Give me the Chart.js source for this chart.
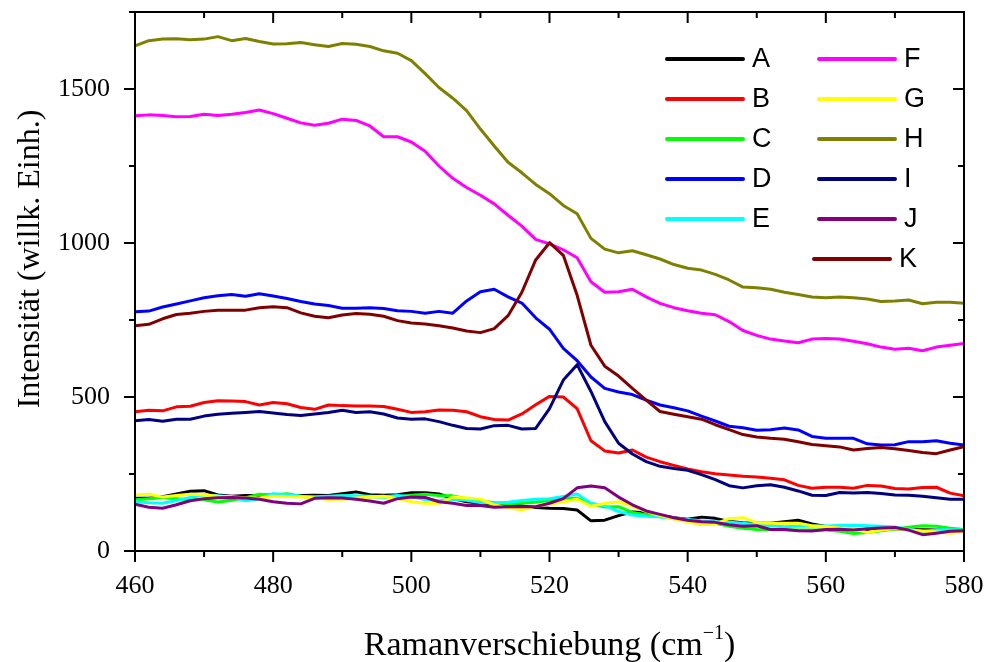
<!DOCTYPE html>
<html>
<head>
<meta charset="utf-8">
<script src="https://cdn.jsdelivr.net/npm/chart.js@4/dist/chart.umd.min.js"></script>
<style>
  html, body { margin: 0; padding: 0; background: #fff; }
  #wrap { width: 985px; height: 662px; position: relative; }
</style>
</head>
<body>
<div id="wrap"><canvas id="chart" width="985" height="662"></canvas></div>
<script>
// ─── Data ────────────────────────────────────────────────────────────────────
const SHIFT = [460, 462, 464, 466, 468, 470, 472, 474, 476, 478, 480, 482, 484, 486, 488, 490,
  492, 494, 496, 498, 500, 502, 504, 506, 508, 510, 512, 514, 516, 518, 520, 522, 524, 526, 528,
  530, 532, 534, 536, 538, 540, 542, 544, 546, 548, 550, 552, 554, 556, 558, 560, 562, 564, 566,
  568, 570, 572, 574, 576, 578, 580];

const A = [171, 171, 176, 185, 194, 196, 182, 178, 180, 180, 182, 180, 180, 181, 180, 186,
  192, 183, 181, 183, 189, 189, 185, 170, 160, 156, 152, 149, 146, 141, 139, 138, 133, 98, 100,
  115, 127, 124, 115, 108, 103, 110, 106, 96, 92, 90, 90, 95, 100, 88, 80, 70, 70, 70,
  73, 72, 70, 69, 68, 68, 68];
const B = [452, 457, 455, 468, 470, 482, 488, 487, 485, 474, 482, 478, 466, 460, 474, 472,
  471, 471, 469, 460, 450, 452, 458, 457, 452, 436, 427, 425, 445, 475, 502, 500, 462, 358, 325,
  318, 328, 305, 290, 278, 266, 257, 251, 247, 243, 240, 236, 231, 213, 204, 207, 207, 204, 213,
  211, 203, 201, 206, 207, 188, 179];
const C = [166, 170, 174, 170, 166, 166, 159, 165, 173, 184, 182, 186, 178, 171, 176, 179,
  177, 176, 175, 176, 181, 184, 180, 179, 170, 162, 157, 153, 156, 158, 165, 171, 171, 154, 143,
  144, 125, 118, 111, 106, 100, 86, 90, 80, 74, 70, 69, 69, 68, 68, 68, 64, 57, 60,
  66, 71, 77, 82, 80, 74, 70];
const D = [777, 779, 792, 802, 812, 822, 829, 833, 827, 835, 828, 820, 810, 802, 797, 788,
  788, 790, 787, 780, 778, 772, 778, 772, 812, 842, 850, 825, 805, 757, 720, 658, 618, 565, 528,
  516, 508, 490, 474, 465, 455, 438, 422, 405, 400, 392, 394, 399, 393, 372, 366, 366, 366, 348,
  344, 345, 355, 355, 358, 350, 344];
const E = [160, 157, 155, 164, 174, 182, 179, 175, 163, 169, 186, 183, 178, 176, 178, 179,
  179, 178, 176, 180, 176, 167, 163, 168, 165, 157, 156, 158, 164, 168, 170, 177, 185, 155, 147,
  128, 117, 113, 111, 106, 102, 98, 95, 93, 90, 86, 82, 79, 81, 81, 81, 83, 84, 82,
  80, 78, 71, 63, 68, 69, 68];
const F = [1413, 1416, 1414, 1410, 1411, 1418, 1414, 1418, 1424, 1432, 1420, 1405, 1390, 1382, 1389, 1402,
  1398, 1380, 1345, 1345, 1328, 1298, 1250, 1210, 1180, 1155, 1127, 1090, 1055, 1012, 997, 978, 952, 874, 840,
  842, 850, 825, 804, 790, 780, 772, 767, 745, 716, 700, 688, 682, 676, 688, 690, 688, 681, 673,
  662, 655, 658, 650, 662, 668, 674];
const G = [182, 184, 175, 180, 184, 182, 178, 176, 173, 172, 178, 177, 176, 172, 167, 168,
  172, 176, 178, 170, 160, 155, 155, 175, 172, 168, 150, 140, 134, 145, 152, 160, 168, 145, 154,
  160, 145, 128, 115, 104, 95, 86, 88, 105, 108, 92, 90, 90, 90, 82, 79, 75, 72, 60,
  68, 73, 68, 65, 62, 58, 63];
const H = [1640, 1657, 1662, 1663, 1660, 1662, 1670, 1657, 1664, 1654, 1646, 1647, 1651, 1644, 1638, 1648,
  1645, 1638, 1624, 1616, 1592, 1550, 1505, 1470, 1430, 1370, 1315, 1262, 1228, 1190, 1160, 1122, 1095, 1015, 980,
  968, 975, 962, 948, 930, 918, 912, 898, 880, 857, 855, 850, 840, 833, 825, 822, 825, 822, 818,
  810, 812, 815, 803, 808, 808, 804];
const I = [423, 427, 421, 428, 428, 438, 444, 447, 450, 453, 448, 443, 440, 445, 450, 457,
  450, 452, 445, 432, 428, 429, 420, 408, 398, 396, 407, 408, 396, 398, 462, 555, 605, 518, 420,
  350, 315, 290, 275, 268, 262, 248, 232, 212, 205, 212, 215, 207, 195, 181, 180, 190, 188, 190,
  187, 182, 181, 178, 173, 168, 168];
const J = [152, 142, 139, 150, 163, 170, 173, 174, 172, 168, 160, 155, 153, 171, 173, 172,
  168, 162, 155, 170, 175, 174, 160, 155, 148, 148, 142, 144, 144, 144, 155, 170, 205, 211, 205,
  175, 150, 130, 119, 108, 100, 95, 93, 85, 80, 82, 70, 70, 66, 65, 70, 71, 68, 72,
  75, 76, 68, 53, 58, 64, 66];
const K = [731, 736, 754, 768, 772, 778, 782, 782, 782, 790, 793, 790, 773, 762, 757, 766,
  771, 769, 762, 748, 740, 737, 731, 724, 714, 709, 722, 764, 840, 945, 1001, 960, 830, 668, 600,
  568, 528, 490, 453, 444, 436, 428, 410, 394, 378, 370, 366, 363, 355, 346, 342, 338, 328, 333,
  336, 332, 326, 320, 316, 328, 339];

const SERIES_NAMES = ['A', 'B', 'C', 'D', 'E', 'F', 'G', 'H', 'I', 'J', 'K'];
const SERIES_VALUES = [A, B, C, D, E, F, G, H, I, J, K];
const SERIES_COLORS = ['#000000', '#ff0000', '#00ff00', '#0000ff', '#00ffff', '#ff00ff',
  '#ffff00', '#808000', '#000080', '#800080', '#800000'];

const X_MAJOR = [460, 480, 500, 520, 540, 560, 580];
const X_MINOR = [470, 490, 510, 530, 550, 570];
const Y_MAJOR = [0, 500, 1000, 1500];
const Y_MINOR = [250, 750, 1250, 1750];

const X_TITLE = 'Ramanverschiebung (cm';
const Y_TITLE = 'Intensität (willk. Einh.)';

const SERIF = '"Liberation Serif", "Times New Roman", serif';
const SANS = '"Liberation Sans", Arial, sans-serif';

// ─── Plugins ─────────────────────────────────────────────────────────────────
// Box frame with Origin-style ticks: out on left/bottom, in on top/right.
const frameTicks = {
  id: 'frameTicks',
  afterDatasetsDraw(chart) {
    const { ctx, chartArea: a, scales: { x, y } } = chart;
    ctx.save();
    ctx.strokeStyle = '#000';
    ctx.lineWidth = 2;
    ctx.strokeRect(a.left, a.top, a.right - a.left, a.bottom - a.top);
    const xtick = (vals, len) => {
      for (const v of vals) {
        const px = x.getPixelForValue(v);
        ctx.beginPath();
        ctx.moveTo(px, a.bottom); ctx.lineTo(px, a.bottom + len);
        ctx.moveTo(px, a.top); ctx.lineTo(px, a.top + len);
        ctx.stroke();
      }
    };
    const ytick = (vals, len) => {
      for (const v of vals) {
        const py = y.getPixelForValue(v);
        ctx.beginPath();
        ctx.moveTo(a.left, py); ctx.lineTo(a.left - len, py);
        ctx.moveTo(a.right, py); ctx.lineTo(a.right - len, py);
        ctx.stroke();
      }
    };
    xtick(X_MAJOR, 11); xtick(X_MINOR, 6);
    ytick(Y_MAJOR, 11); ytick(Y_MINOR, 6);
    ctx.restore();
  },
};

const axisTitles = {
  id: 'axisTitles',
  afterDraw(chart) {
    const { ctx, chartArea: a } = chart;
    ctx.save();
    ctx.fillStyle = '#000';
    // x title with superscript -1
    ctx.font = `34px ${SERIF}`;
    ctx.textBaseline = 'alphabetic';
    const sup = '\u22121';
    const w1 = ctx.measureText(X_TITLE).width;
    ctx.font = `20px ${SERIF}`;
    const w2 = ctx.measureText(sup).width;
    ctx.font = `34px ${SERIF}`;
    const w3 = ctx.measureText(')').width;
    const cx = (a.left + a.right) / 2;
    const sx = cx - (w1 + w2 + w3) / 2;
    const base = 655;
    ctx.textAlign = 'left';
    ctx.fillText(X_TITLE, sx, base);
    ctx.font = `20px ${SERIF}`;
    ctx.fillText(sup, sx + w1, base - 16);
    ctx.font = `34px ${SERIF}`;
    ctx.fillText(')', sx + w1 + w2, base);
    // y title
    ctx.translate(39, 259);
    ctx.rotate(-Math.PI / 2);
    ctx.font = `32px ${SERIF}`;
    ctx.textAlign = 'center';
    ctx.fillText(Y_TITLE, 0, 0);
    ctx.restore();
  },
};

// Two-column legend drawn inside the plot, A–E left, F–K right.
const legendBox = {
  id: 'legendBox',
  afterDraw(chart) {
    const { ctx } = chart;
    ctx.save();
    ctx.font = `27px ${SANS}`;
    ctx.textBaseline = 'middle';
    ctx.textAlign = 'left';
    ctx.lineCap = 'round';
    ctx.lineWidth = 4;
    SERIES_NAMES.forEach((name, i) => {
      const col = i < 5 ? 0 : 1;
      const row = col === 0 ? i : i - 5;
      let x0 = col === 0 ? 667 : 819;
      if (i === 10) x0 = 814;
      const yy = 59 + row * 40;
      ctx.strokeStyle = SERIES_COLORS[i];
      ctx.beginPath();
      ctx.moveTo(x0, yy);
      ctx.lineTo(x0 + 76, yy);
      ctx.stroke();
      ctx.fillStyle = '#000';
      ctx.fillText(name, x0 + 85, yy + 1);
    });
    ctx.restore();
  },
};

// ─── Chart ───────────────────────────────────────────────────────────────────
const datasets = SERIES_NAMES.map((name, i) => ({
  label: name,
  data: SHIFT.map((s, k) => ({ x: s, y: SERIES_VALUES[i][k] })),
  borderColor: SERIES_COLORS[i],
  backgroundColor: SERIES_COLORS[i],
  borderWidth: 3,
  pointRadius: 0,
  tension: 0,
  fill: false,
  borderJoinStyle: 'round',
  borderCapStyle: 'round',
  order: SERIES_NAMES.length - i,
}));

new Chart(document.getElementById('chart'), {
  type: 'line',
  data: { datasets },
  options: {
    responsive: false,
    animation: false,
    layout: { padding: { left: 0, top: 12, right: 21, bottom: 0 } },
    plugins: { legend: { display: false }, tooltip: { enabled: false } },
    scales: {
      x: {
        type: 'linear',
        min: 460,
        max: 580,
        grid: { display: false },
        border: { display: false },
        ticks: {
          color: '#000',
          padding: 12,
          maxRotation: 0,
          autoSkip: false,
          font: { family: SERIF, size: 26 },
        },
        afterBuildTicks(s) { s.ticks = X_MAJOR.map(v => ({ value: v })); },
        afterFit(s) { s.height = 111; s.paddingLeft = 0; s.paddingRight = 0; },
      },
      y: {
        type: 'linear',
        min: 0,
        max: 1750,
        grid: { display: false },
        border: { display: false },
        ticks: {
          color: '#000',
          padding: 17,
          autoSkip: false,
          font: { family: SERIF, size: 26 },
          callback: v => String(v),
        },
        afterBuildTicks(s) { s.ticks = Y_MAJOR.map(v => ({ value: v })); },
        afterFit(s) { s.width = 135; s.paddingTop = 0; s.paddingBottom = 0; },
      },
    },
  },
  plugins: [frameTicks, axisTitles, legendBox],
});
</script>
</body>
</html>
